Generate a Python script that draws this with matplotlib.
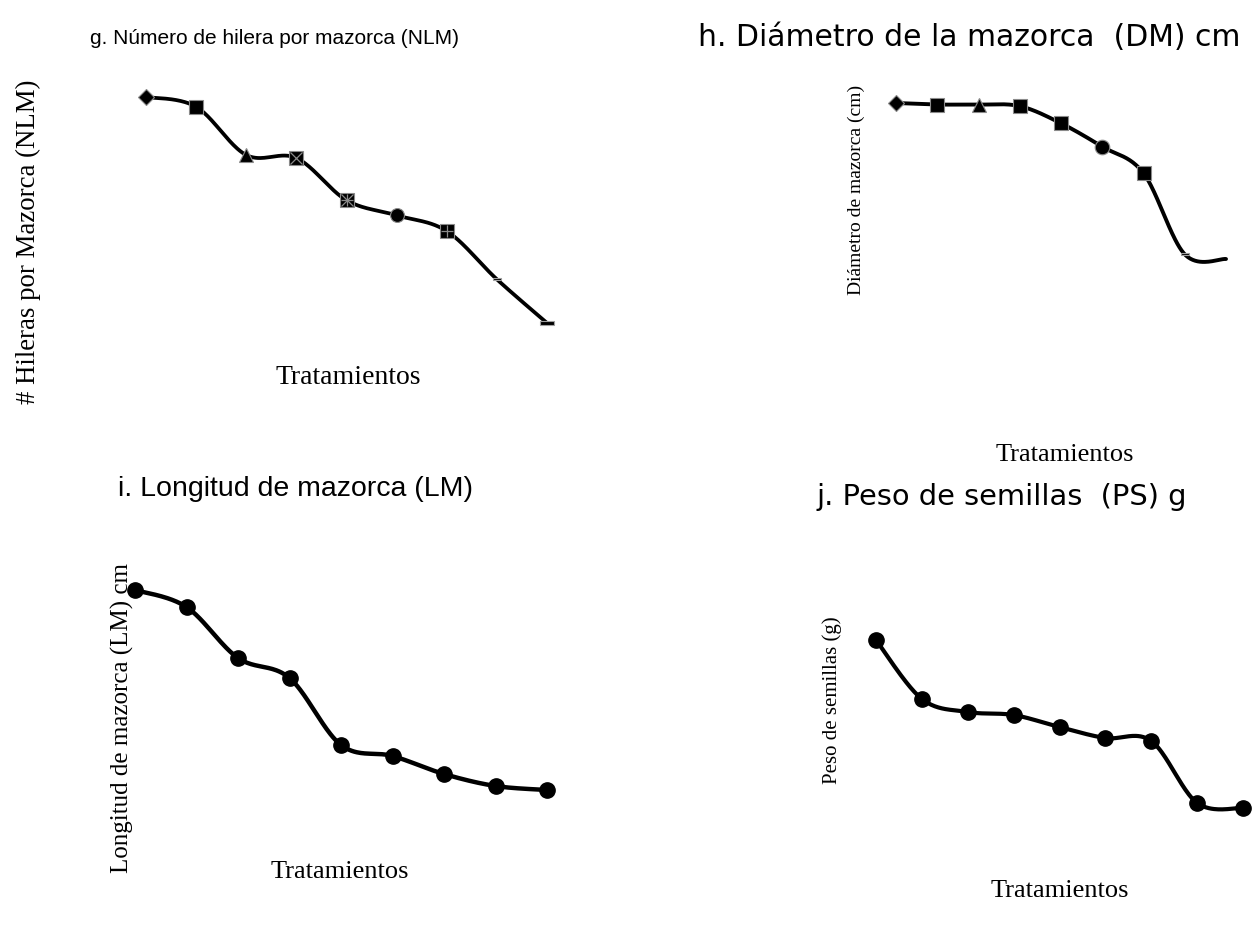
import numpy as np
import matplotlib.pyplot as plt
from matplotlib.path import Path

# data (no tick values are shown, units are approximate)
tratamientos = [1, 2, 3, 4, 5, 6, 7, 8, 9]
nlm = [15.00, 14.87, 14.23, 14.19, 13.63, 13.43, 13.22, 12.58, 12.00]
dm = [4.80, 4.79, 4.79, 4.78, 4.67, 4.52, 4.35, 3.83, 3.80]
lm = [20.0, 19.49, 17.96, 17.36, 15.35, 15.02, 14.48, 14.12, 14.0]
ps = [60.0, 52.98, 51.43, 51.07, 49.64, 48.33, 47.98, 40.60, 40.0]

marcas_nlm = ['D', 's', '^', 'sx', 's*', 'o', 's+', '-', '=']
marcas_dm = ['D', 's', '^', 's', 's', 'o', 's', '-', '']

W, H = 1253, 925
fig = plt.figure(figsize=(W / 100, H / 100), dpi=100)
plt.rcParams['font.family'] = 'Liberation Serif'

barra = Path([(-1, -0.28), (1, -0.28), (1, 0.28), (-1, 0.28), (-1, -0.28)],
             [1, 2, 2, 2, 79])


def smooth(x, y, n=40):
    # Catmull-Rom curve through the points (like Excel's smoothed line)
    x = np.asarray(x, float)
    y = np.asarray(y, float)
    px = np.r_[x[0], x, x[-1]]
    py = np.r_[y[0], y, y[-1]]
    xs, ys = [], []
    t = np.linspace(0, 1, n)
    for i in range(1, len(px) - 2):
        for p, out in ((px, xs), (py, ys)):
            p0, p1, p2, p3 = p[i - 1], p[i], p[i + 1], p[i + 2]
            out.extend(0.5 * (2 * p1 + (-p0 + p2) * t
                              + (2 * p0 - 5 * p1 + 4 * p2 - p3) * t ** 2
                              + (-p0 + 3 * p1 - 3 * p2 + p3) * t ** 3))
    return np.array(xs), np.array(ys)


def panel(x_first, x_last, v_hi, py_hi, v_lo, py_lo):
    # axes spanning the whole figure, limits chosen so the panel lands in place
    ax = fig.add_axes([0, 0, 1, 1])
    s = (x_last - x_first) / 8.0
    ax.set_xlim(1 - x_first / s, 1 + (W - x_first) / s)
    t = (py_lo - py_hi) / (v_hi - v_lo)
    ax.set_ylim(v_hi - (H - py_hi) / t, v_hi + py_hi / t)
    ax.axis('off')
    ax.patch.set_alpha(0)
    return ax


def draw_marker(ax, x, y, m, ms):
    if m == '':
        return
    if m in ('-', '='):
        size = ms * (0.6 if m == '-' else 1.0)
        ax.plot(x, y, marker=barra, ms=size, mfc='black', mec='#a0a0a0', mew=0.8,
                ls='none', zorder=3)
        return
    base = m[0]
    size = ms * 0.8 if base == 'D' else ms
    ax.plot(x, y, marker=base, ms=size, mfc='black', mec='#8a8a8a', mew=0.8,
            ls='none', zorder=3)
    for extra in m[1:]:
        kinds = ('x', '+') if extra == '*' else (extra,)
        for mk in kinds:
            ax.plot(x, y, marker=mk, ms=ms * 0.9, mec='#8a8a8a', mew=0.9,
                    ls='none', zorder=4)


# g. NLM
ax = panel(146, 547, 15.0, 97, 12.0, 323)
sx, sy = smooth(tratamientos, nlm)
ax.plot(sx, sy, color='black', lw=2.7, solid_capstyle='round')
for xi, yi, m in zip(tratamientos, nlm, marcas_nlm):
    draw_marker(ax, xi, yi, m, 10)

# h. DM
ax = panel(896, 1226, 4.8, 103, 3.8, 259)
sx, sy = smooth(tratamientos, dm)
ax.plot(sx, sy, color='black', lw=2.8, solid_capstyle='round')
for xi, yi, m in zip(tratamientos, dm, marcas_dm):
    draw_marker(ax, xi, yi, m, 10.5)

# i. LM
ax = panel(135, 547, 20.0, 590, 14.0, 790)
sx, sy = smooth(tratamientos, lm)
ax.plot(sx, sy, color='black', lw=3.2, solid_capstyle='round')
ax.plot(tratamientos, lm, 'o', color='black', ms=11, ls='none')

# j. PS
ax = panel(876, 1243, 60.0, 640, 40.0, 808)
sx, sy = smooth(tratamientos, ps)
ax.plot(sx, sy, color='black', lw=3.0, solid_capstyle='round')
ax.plot(tratamientos, ps, 'o', color='black', ms=11, ls='none')


def ftext(x, y, s, **kw):
    fig.text(x / W, 1 - y / H, s, **kw)


tk = dict(va='center', ha='left')
ftext(90, 38, 'g. Número de hilera por mazorca (NLM)',
      family='Liberation Sans', fontsize=15, **tk)
ftext(698, 38, 'h. Diámetro de la mazorca  (DM) cm',
      family='DejaVu Sans', fontsize=21.5, **tk)
ftext(118, 489, 'i. Longitud de mazorca (LM)',
      family='Liberation Sans', fontsize=20.5, **tk)
ftext(817, 497, 'j. Peso de semillas  (PS) g',
      family='DejaVu Sans', fontsize=20.8, **tk)

lk = dict(family='Liberation Serif', va='center', ha='center')
ftext(348, 377, 'Tratamientos', fontsize=20, **lk)
ftext(1065, 455, 'Tratamientos', fontsize=19, **lk)
ftext(340, 872, 'Tratamientos', fontsize=19, **lk)
ftext(1060, 891, 'Tratamientos', fontsize=19, **lk)

ftext(28, 242, '# Hileras por Mazorca (NLM)', rotation=90, fontsize=19.3, **lk)
ftext(856, 190, 'Diámetro de mazorca (cm)', rotation=90, fontsize=14, **lk)
ftext(122, 718, 'Longitud de mazorca (LM) cm', rotation=90, fontsize=18, **lk)
ftext(832, 700, 'Peso de semillas (g)', rotation=90, fontsize=15, **lk)

fig.savefig('out.png', dpi=100)
plt.close(fig)
